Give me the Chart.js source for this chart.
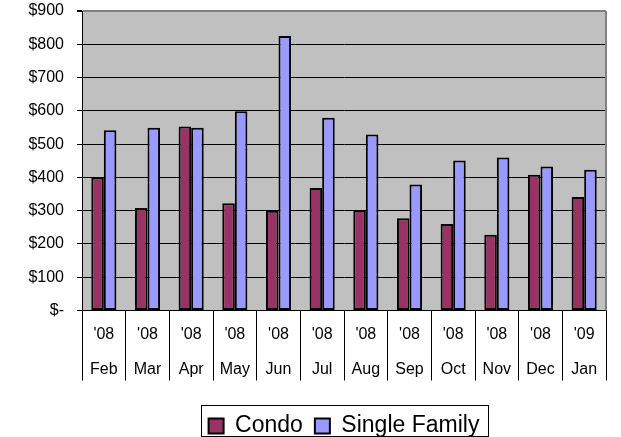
<!DOCTYPE html>
<html>
<head>
<meta charset="utf-8">
<script src="https://cdn.jsdelivr.net/npm/chart.js@4.4.1/dist/chart.umd.min.js"></script>
<style>
  html, body { margin: 0; padding: 0; background: #fff; }
  canvas { display: block; }
</style>
</head>
<body>
<canvas id="chart" width="621" height="437"></canvas>
<script>
const years = ["'08", "'08", "'08", "'08", "'08", "'08", "'08", "'08", "'08", "'08", "'08", "'09"];
const months = ['Feb', 'Mar', 'Apr', 'May', 'Jun', 'Jul', 'Aug', 'Sep', 'Oct', 'Nov', 'Dec', 'Jan'];
const condo = [400, 308, 553, 322, 300, 368, 302, 277, 260, 228, 408, 341];
const singleFamily = [542, 549, 549, 599, 825, 579, 529, 379, 451, 460, 433, 423];
const yMin = 0, yMax = 900, yStep = 100;

const FONT = "'Liberation Sans', Arial, sans-serif";

// gray plot area
const plotBg = {
  id: 'plotBg',
  beforeDraw(chart) {
    const { ctx, chartArea: a } = chart;
    ctx.save();
    ctx.fillStyle = '#C0C0C0';
    ctx.fillRect(a.left, a.top, a.right - a.left, a.bottom - a.top);
    ctx.restore();
  },
  afterDraw(chart) {
    // right edge of plot frame
    const { ctx, chartArea: a } = chart;
    ctx.save();
    ctx.strokeStyle = '#808080';
    ctx.lineWidth = 2;
    ctx.beginPath();
    ctx.moveTo(a.right, a.top);
    ctx.lineTo(a.right, a.bottom);
    ctx.stroke();
    ctx.restore();
  }
};

// legend centred under the plot, with a box round it
const legendBox = {
  id: 'legendBox',
  afterUpdate(chart) {
    const lg = chart.legend;
    if (!lg) return;
    lg.fit(); // resets hitboxes
    lg.left = chart.chartArea.left;
    lg.right = chart.chartArea.right;
    lg.adjustHitBoxes();
  },
  afterDraw(chart) {
    const hb = chart.legend && chart.legend.legendHitBoxes;
    if (!hb || !hb.length) return;
    const first = hb[0], last = hb[hb.length - 1];
    const x1 = Math.round(first.left - 8) + 0.5;
    const x2 = Math.round(last.left + last.width + 9) + 0.5;
    const y1 = Math.round(first.top + first.height / 2 - 21) + 0.5;
    const y2 = 436.5;
    const ctx = chart.ctx;
    ctx.save();
    ctx.strokeStyle = '#000';
    ctx.lineWidth = 1;
    ctx.strokeRect(x1, y1, x2 - x1, y2 - y1);
    ctx.restore();
  }
};

new Chart(document.getElementById('chart'), {
  type: 'bar',
  data: {
    labels: months.map((m, i) => [years[i], m]),
    datasets: [
      {
        label: 'Condo',
        data: condo,
        backgroundColor: '#993366',
        borderColor: '#000',
        borderWidth: 2,
        borderSkipped: false
      },
      {
        label: 'Single Family',
        data: singleFamily,
        backgroundColor: '#9999FF',
        borderColor: '#000',
        borderWidth: 2,
        borderSkipped: false
      }
    ]
  },
  options: {
    responsive: false,
    animation: false,
    categoryPercentage: 0.575,
    barPercentage: 1.0,
    layout: { padding: { left: 0, right: 15, top: 11, bottom: -10.5 } },
    plugins: {
      legend: {
        position: 'bottom',
        labels: {
          boxWidth: 15,
          boxHeight: 15,
          padding: 12,
          color: '#000',
          font: { family: FONT, size: 23 }
        }
      },
      tooltip: { enabled: false }
    },
    scales: {
      x: {
        afterFit(scale) { scale.height = 92; },
        border: { color: '#000', width: 1 },
        grid: {
          offset: true,
          drawOnChartArea: false,
          tickLength: 70,
          color: '#000'
        },
        ticks: {
          color: '#000',
          padding: -63.5,
          maxRotation: 0,
          autoSkip: false,
          font: { family: FONT, size: 16, lineHeight: 35 / 16 }
        }
      },
      y: {
        min: yMin,
        max: yMax,
        afterFit(scale) {
          scale.width = 82;
          scale.paddingTop = 0;
          scale.paddingBottom = 0;
        },
        border: { color: '#000', width: 1 },
        grid: {
          color: c => (c.tick && c.tick.value === yMax ? '#808080' : '#000'),
          lineWidth: c => (c.tick && c.tick.value === yMax ? 2 : 1),
          tickColor: '#000',
          tickLength: 5
        },
        ticks: {
          stepSize: yStep,
          color: '#000',
          padding: 13,
          font: { family: FONT, size: 16 },
          callback: v => (v === 0 ? '$-' : '$' + v)
        }
      }
    }
  },
  plugins: [plotBg, legendBox]
});
</script>
</body>
</html>
